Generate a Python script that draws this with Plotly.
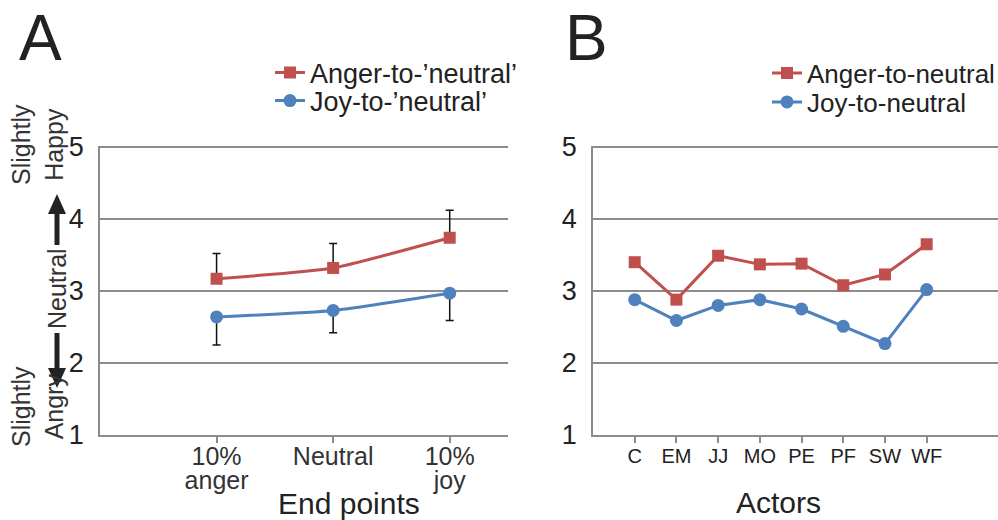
import plotly.graph_objects as go

W, H = 998, 520
FONT = "Liberation Sans, Arial, sans-serif"
RED = "#C0504D"
BLUE = "#4F81BD"
GRID = "#8C8C8C"
TXT = "#222222"

# Panel A: ratings by morph end point (mean with one-sided SE bars)
endpoint_pos = [1, 2, 3]
endpoint_top = ["10%", "Neutral", "10%"]
endpoint_bottom = ["anger", "", "joy"]
anger_a = [3.17, 3.32, 3.74]
anger_a_err = [0.35, 0.34, 0.38]
joy_a = [2.64, 2.73, 2.97]
joy_a_err = [0.39, 0.31, 0.38]

# Panel B: ratings by actor
actors = ["C", "EM", "JJ", "MO", "PE", "PF", "SW", "WF"]
actor_pos = [1, 2, 3, 4, 5, 6, 7, 8]
anger_b = [3.40, 2.88, 3.49, 3.37, 3.38, 3.08, 3.23, 3.65]
joy_b = [2.88, 2.59, 2.80, 2.88, 2.75, 2.51, 2.27, 3.02]

y_ticks = [1, 2, 3, 4, 5]


def px(x):
    return x / W


def py(y):
    return 1 - y / H


fig = go.Figure()

fig.add_trace(go.Scatter(
    x=endpoint_pos, y=anger_a, name="Anger-to-\u2019neutral\u2019",
    mode="lines+markers", line=dict(color=RED, width=3, shape="spline", smoothing=0.5),
    marker=dict(symbol="square", size=12, color=RED),
    error_y=dict(type="data", symmetric=False, array=anger_a_err, arrayminus=[0, 0, 0],
                 color="#111111", thickness=1.5, width=4),
    xaxis="x", yaxis="y", legend="legend",
))
fig.add_trace(go.Scatter(
    x=endpoint_pos, y=joy_a, name="Joy-to-\u2019neutral\u2019",
    mode="lines+markers", line=dict(color=BLUE, width=3, shape="spline", smoothing=0.5),
    marker=dict(symbol="circle", size=13, color=BLUE),
    error_y=dict(type="data", symmetric=False, array=[0, 0, 0], arrayminus=joy_a_err,
                 color="#111111", thickness=1.5, width=4),
    xaxis="x", yaxis="y", legend="legend2",
))
fig.add_trace(go.Scatter(
    x=actor_pos, y=anger_b, name="Anger-to-neutral",
    mode="lines+markers", line=dict(color=RED, width=3),
    marker=dict(symbol="square", size=12, color=RED),
    xaxis="x2", yaxis="y2", legend="legend3",
))
fig.add_trace(go.Scatter(
    x=actor_pos, y=joy_b, name="Joy-to-neutral",
    mode="lines+markers", line=dict(color=BLUE, width=3),
    marker=dict(symbol="circle", size=13, color=BLUE),
    xaxis="x2", yaxis="y2", legend="legend4",
))

ydom = [py(435), py(435 - 4.02 * 72)]
yax = dict(range=[1, 5.02], tickvals=y_ticks, showgrid=True, gridcolor=GRID, gridwidth=1.5,
           showline=True, linecolor=GRID, linewidth=1.5, ticks="", zeroline=False,
           tickfont=dict(family=FONT, size=27, color=TXT), ticklabelstandoff=9,
           domain=ydom)
xax_common = dict(showgrid=False, zeroline=False, showline=True, linecolor=GRID, linewidth=1.5,
                  ticks="outside", ticklen=6, tickcolor=GRID, tickwidth=1.5)

xdom_a = [px(100), px(508)]


def legend_box(x, y, size):
    return dict(x=px(x), y=py(y), xanchor="left", yanchor="middle",
                font=dict(family=FONT, size=size, color=TXT), bgcolor="rgba(0,0,0,0)",
                itemwidth=30, tracegroupgap=0)


fig.update_layout(
    width=W, height=H, margin=dict(l=0, r=0, t=0, b=0, autoexpand=False),
    paper_bgcolor="white", plot_bgcolor="white",
    font=dict(family=FONT, color=TXT),
    xaxis=dict(domain=xdom_a, range=[0, 3.5], tickvals=endpoint_pos,
               ticktext=endpoint_top, tickfont=dict(family=FONT, size=25, color="#333333"),
               ticklabelstandoff=-8, anchor="y", **xax_common),
    # second row of the end-point labels, on a twin axis sharing the same scale
    xaxis3=dict(domain=xdom_a, range=[0, 3.5], tickvals=endpoint_pos, ticktext=endpoint_bottom,
                tickfont=dict(family=FONT, size=25, color="#333333"), overlaying="x",
                anchor="y", side="bottom", showgrid=False, zeroline=False, showline=False,
                ticks="", ticklabelstandoff=28),
    yaxis=dict(anchor="x", **yax),
    xaxis2=dict(domain=[px(593), 1], range=[0, 9.71], tickvals=actor_pos, ticktext=actors,
                tickfont=dict(family=FONT, size=20, color=TXT), ticklabelstandoff=-4,
                anchor="y2", **xax_common),
    yaxis2=dict(anchor="x2", **yax),
    legend=legend_box(270, 73, 27),
    legend2=legend_box(270, 101, 27),
    legend3=legend_box(767, 73, 26),
    legend4=legend_box(767, 102, 26),
)

# invisible trace that brings the twin label axis into the figure
fig.add_trace(go.Scatter(x=endpoint_pos, y=[None] * 3, xaxis="x3", yaxis="y",
                         showlegend=False, hoverinfo="skip", mode="markers"))

annotations = [
    dict(text="A", x=px(40), y=py(38), font=dict(size=64, color=TXT)),
    dict(text="B", x=px(586), y=py(38), font=dict(size=64, color=TXT)),
    dict(text="End points", x=px(349), y=py(503), font=dict(size=30, color=TXT)),
    dict(text="Actors", x=px(778), y=py(502), font=dict(size=30, color=TXT)),
    dict(text="Slightly<br>Happy", x=px(37), y=py(145), textangle=-90,
         font=dict(size=25, color="#333333")),
    dict(text="Neutral", x=px(57), y=py(289), textangle=-90,
         font=dict(size=25, color="#333333")),
    dict(text="Slightly<br>Angry", x=px(37), y=py(407), textangle=-90,
         font=dict(size=25, color="#333333")),
]
for a in annotations:
    a.update(xref="paper", yref="paper", showarrow=False, xanchor="center", yanchor="middle")
    a["font"]["family"] = FONT
fig.update_layout(annotations=annotations)

# Up/down arrows on the rating scale
ARROW = "#222222"
shapes = [
    dict(type="line", x0=px(57), x1=px(57), y0=py(245), y1=py(210),
         line=dict(color=ARROW, width=5)),
    dict(type="path", path=f"M {px(57)} {py(194)} L {px(48)} {py(214)} L {px(66)} {py(214)} Z",
         fillcolor=ARROW, line=dict(color=ARROW, width=0)),
    dict(type="line", x0=px(57), x1=px(57), y0=py(333), y1=py(370),
         line=dict(color=ARROW, width=5)),
    dict(type="path", path=f"M {px(57)} {py(388)} L {px(48)} {py(368)} L {px(66)} {py(368)} Z",
         fillcolor=ARROW, line=dict(color=ARROW, width=0)),
]
for s in shapes:
    s.update(xref="paper", yref="paper")
fig.update_layout(shapes=shapes)

fig.write_html("out.html")
